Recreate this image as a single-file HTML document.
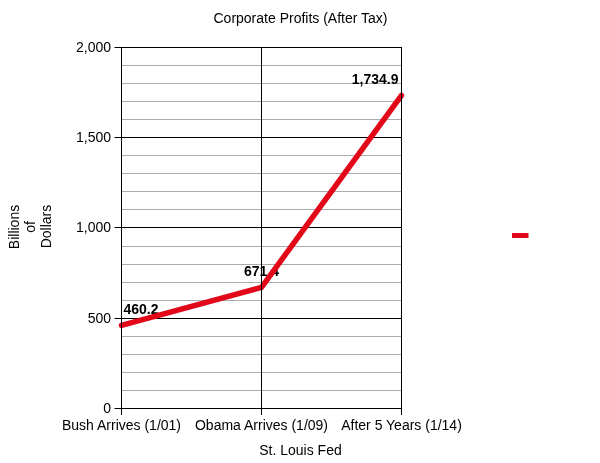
<!DOCTYPE html><html><head><meta charset="utf-8"><style>html,body{margin:0;padding:0;background:#fff;}svg{display:block;will-change:transform;}text{font-family:"Liberation Sans",sans-serif;}</style></head><body>
<svg width="600" height="463" viewBox="0 0 600 463" xmlns="http://www.w3.org/2000/svg">
<rect width="600" height="463" fill="#fff"/>
<line x1="122" x2="401" y1="65.5" y2="65.5" stroke="#ababab" stroke-width="1"/>
<line x1="122" x2="401" y1="83.5" y2="83.5" stroke="#ababab" stroke-width="1"/>
<line x1="122" x2="401" y1="101.5" y2="101.5" stroke="#ababab" stroke-width="1"/>
<line x1="122" x2="401" y1="119.5" y2="119.5" stroke="#ababab" stroke-width="1"/>
<line x1="122" x2="401" y1="155.5" y2="155.5" stroke="#ababab" stroke-width="1"/>
<line x1="122" x2="401" y1="173.5" y2="173.5" stroke="#ababab" stroke-width="1"/>
<line x1="122" x2="401" y1="191.5" y2="191.5" stroke="#ababab" stroke-width="1"/>
<line x1="122" x2="401" y1="209.5" y2="209.5" stroke="#ababab" stroke-width="1"/>
<line x1="122" x2="401" y1="246.5" y2="246.5" stroke="#ababab" stroke-width="1"/>
<line x1="122" x2="401" y1="264.5" y2="264.5" stroke="#ababab" stroke-width="1"/>
<line x1="122" x2="401" y1="282.5" y2="282.5" stroke="#ababab" stroke-width="1"/>
<line x1="122" x2="401" y1="300.5" y2="300.5" stroke="#ababab" stroke-width="1"/>
<line x1="122" x2="401" y1="336.5" y2="336.5" stroke="#ababab" stroke-width="1"/>
<line x1="122" x2="401" y1="354.5" y2="354.5" stroke="#ababab" stroke-width="1"/>
<line x1="122" x2="401" y1="372.5" y2="372.5" stroke="#ababab" stroke-width="1"/>
<line x1="122" x2="401" y1="390.5" y2="390.5" stroke="#ababab" stroke-width="1"/>
<line x1="114.5" x2="402" y1="47.5" y2="47.5" stroke="#000" stroke-width="1"/>
<line x1="114.5" x2="402" y1="137.5" y2="137.5" stroke="#000" stroke-width="1"/>
<line x1="114.5" x2="402" y1="227.5" y2="227.5" stroke="#000" stroke-width="1"/>
<line x1="114.5" x2="402" y1="318.5" y2="318.5" stroke="#000" stroke-width="1"/>
<line x1="114.5" x2="402" y1="408.5" y2="408.5" stroke="#000" stroke-width="1"/>
<text x="111" y="51.5" font-size="14" text-anchor="end" fill="#000">2,000</text>
<text x="111" y="141.5" font-size="14" text-anchor="end" fill="#000">1,500</text>
<text x="111" y="231.5" font-size="14" text-anchor="end" fill="#000">1,000</text>
<text x="111" y="322.5" font-size="14" text-anchor="end" fill="#000">500</text>
<text x="111" y="412.5" font-size="14" text-anchor="end" fill="#000">0</text>
<text x="300.5" y="23" font-size="14" text-anchor="middle" fill="#000">Corporate Profits (After Tax)</text>
<text transform="translate(19,227) rotate(-90)" x="0" y="0" font-size="14" text-anchor="middle" fill="#000">Billions</text>
<text transform="translate(35,227) rotate(-90)" x="0" y="0" font-size="14" text-anchor="middle" fill="#000">of</text>
<text transform="translate(51,226.5) rotate(-90)" x="0" y="0" font-size="14" text-anchor="middle" fill="#000">Dollars</text>
<text x="121.5" y="430" font-size="14" text-anchor="middle" fill="#000">Bush Arrives (1/01)</text>
<text x="261.5" y="430" font-size="14" text-anchor="middle" fill="#000">Obama Arrives (1/09)</text>
<text x="401.5" y="430" font-size="14" text-anchor="middle" fill="#000">After 5 Years (1/14)</text>
<text x="300.5" y="455" font-size="14" text-anchor="middle" fill="#000">St. Louis Fed</text>
<text x="123.5" y="314" font-size="14" font-weight="bold" fill="#000">460.2</text>
<text x="261.5" y="276" font-size="14" font-weight="bold" text-anchor="middle" fill="#000">671.4</text>
<text x="398.5" y="84" font-size="14" font-weight="bold" text-anchor="end" fill="#000">1,734.9</text>
<polyline points="121.50,325.43 261.50,287.31 401.50,95.35" fill="none" stroke="#e2081a" stroke-width="5.5" stroke-linecap="round" stroke-linejoin="round"/>
<line x1="121.5" x2="121.5" y1="47" y2="415" stroke="#000" stroke-width="1"/>
<line x1="261.5" x2="261.5" y1="47" y2="415" stroke="#000" stroke-width="1"/>
<line x1="401.5" x2="401.5" y1="47" y2="415" stroke="#000" stroke-width="1"/>
<rect x="512" y="233" width="16.5" height="5" fill="#e2081a"/>
</svg></body></html>
